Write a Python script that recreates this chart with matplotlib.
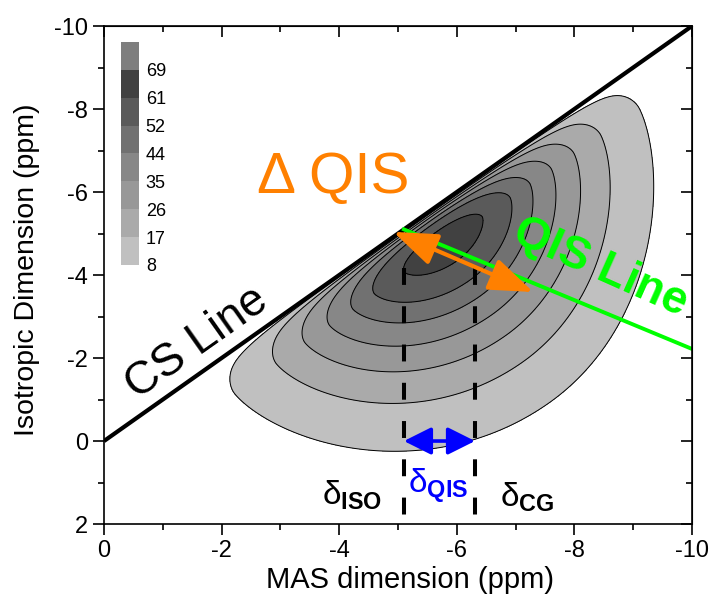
import numpy as np
import matplotlib
matplotlib.use("Agg")
import matplotlib.pyplot as plt
from matplotlib.ticker import MultipleLocator

plt.rcParams['font.family'] = ['Liberation Sans', 'DejaVu Sans']
plt.rcParams['mathtext.fontset'] = 'custom'
plt.rcParams['mathtext.rm'] = 'Liberation Sans'
plt.rcParams['mathtext.bf'] = 'Liberation Sans:bold'
plt.rcParams['mathtext.it'] = 'Liberation Sans:italic'
plt.rcParams['axes.unicode_minus'] = False

# contour levels and their gray fills (lowest first, last one is above 69)
levels = [8, 17, 26, 35, 44, 52, 61, 69]
fill_colors = ["#c0c0c0", "#aaaaaa", "#989898", "#878787",
               "#717171", "#5a5a5a", "#414141", "#7e7e7e"]

# distribution (ppm)
peak_height = 66
delta0 = -5.15          # isotropic shift of the peak
q_mode = 0.65           # QIS offset of the peak
sigma_delta_right = 1.6   # towards more negative shift
sigma_delta_left = 1.75   # towards less negative shift
sigma_q_low = 0.7       # towards the CS line
q_tail_scale = 2.15     # QIS tail, exp(-(dq/scale)^1.5)
tilt = 0.5              # drift of shift with QIS offset
edge_width = 0.08       # steepness at the CS line
qis_slope = 0.588       # QIS direction: (-1, +0.588)

# annotation values (ppm)
cs_x = [0, -10]
cs_y = [0, -10]
qis_start = -5.1
qis_end = -10
orange_from = (-4.92, -5.04)
orange_to = (-7.30, -3.59)
delta_iso = -5.1
delta_cg = -6.31
dash_top = -4.17
dash_bottom = 1.86
qis_arrow_y = 0.0

fig = plt.figure(figsize=(7.11, 5.98), dpi=100)
ax = fig.add_axes([0.1463, 0.1237, 0.827, 0.8328])

# field on a grid
xs = np.linspace(0, -10, 601)
ys = np.linspace(2, -10, 721)
X, Y = np.meshgrid(xs, ys)
q = (Y - X) / (1 + qis_slope)
d = X + q
dc = delta0 + tilt * (q - q_mode)
sd = np.where(d > dc, sigma_delta_left, sigma_delta_right)
fd = np.exp(-(d - dc) ** 2 / (2 * sd ** 2))
dq = q - q_mode
gq = np.where(dq < 0,
              np.exp(-dq ** 2 / (2 * sigma_q_low ** 2)),
              np.exp(-(np.abs(dq) / q_tail_scale) ** 1.5))
edge = np.where(q > 0, 1 - np.exp(-np.clip(q, 0, None) / edge_width), 0)
Z = peak_height * fd * gq * edge

ax.contourf(X, Y, Z, levels=levels + [200], colors=fill_colors)
ax.contour(X, Y, Z, levels=levels, colors="black", linewidths=0.7)

# CS line
ax.plot(cs_x, cs_y, color="black", lw=3, solid_capstyle="butt")

# QIS line
ax.plot([qis_start, qis_end],
        [qis_start, qis_start + qis_slope * (qis_start - qis_end)],
        color="#00ff00", lw=2.8)

# orange double arrow
ax.annotate("", xy=orange_to, xytext=orange_from,
            arrowprops=dict(arrowstyle="<|-|>,head_length=1.35,head_width=0.5",
                            mutation_scale=20, color="#ff8000", lw=3,
                            shrinkA=0, shrinkB=0))

# dashed markers
for xv in [delta_iso, delta_cg]:
    ax.plot([xv, xv], [dash_top, dash_bottom], color="black", lw=2.9,
            dashes=(4.2, 5.3))

# blue double arrow
ax.annotate("", xy=(delta_cg, qis_arrow_y), xytext=(delta_iso, qis_arrow_y),
            arrowprops=dict(arrowstyle="<|-|>,head_length=1.4,head_width=0.7",
                            mutation_scale=12, color="#0000ff", lw=2.6,
                            shrinkA=0, shrinkB=0))

# texts
ax.text(-2.6, -5.98, "Δ QIS", color="#ff8000", fontsize=42,
        ha="left", va="baseline")
ax.text(-8.44, -4.17, "QIS Line", color="#00ff00", fontsize=33,
        fontweight="bold", rotation=-24, ha="center", va="center",
        rotation_mode="anchor")
ax.text(-1.58, -2.36, "CS Line", color="black", fontsize=33,
        rotation=35.2, ha="center", va="center", rotation_mode="anchor")
ax.text(-3.71, 1.54, r"$\mathrm{\delta}_{\mathbf{ISO}}$", fontsize=24,
        ha="left", va="baseline")
ax.text(-5.17, 1.25, r"$\mathrm{\delta}_{\mathbf{QIS}}$", fontsize=24,
        color="#0000ff", ha="left", va="baseline")
ax.text(-6.73, 1.59, r"$\mathrm{\delta}_{\mathbf{CG}}$", fontsize=24,
        ha="left", va="baseline")

# axes
ax.set_xlim(0, -10)
ax.set_ylim(2, -10)
ax.set_xticks(np.arange(0, -11, -2))
ax.set_yticks(np.arange(2, -11, -2))
ax.xaxis.set_minor_locator(MultipleLocator(1))
ax.yaxis.set_minor_locator(MultipleLocator(1))
ax.tick_params(which="major", direction="out", length=8, width=1.2,
               labelsize=17)
ax.tick_params(which="minor", direction="out", length=4, width=1.2)
for sp in ax.spines.values():
    sp.set_linewidth(1.2)
ax.set_xlabel("MAS dimension (ppm)", fontsize=21)
ax.set_ylabel("Isotropic Dimension (ppm)", fontsize=20.5)
ax.xaxis.set_label_coords(0.52, -0.085)
ax.yaxis.set_label_coords(-0.109, 0.51)

secx = ax.secondary_xaxis("top")
secx.set_xticks(np.arange(0, -11, -2))
secx.xaxis.set_minor_locator(MultipleLocator(1))
secx.tick_params(which="major", direction="in", length=8, width=1.2,
                 labeltop=False)
secx.tick_params(which="minor", direction="in", length=4, width=1.2)
secy = ax.secondary_yaxis("right")
secy.set_yticks(np.arange(2, -11, -2))
secy.yaxis.set_minor_locator(MultipleLocator(1))
secy.tick_params(which="major", direction="in", length=8, width=1.2,
                 labelright=False)
secy.tick_params(which="minor", direction="in", length=4, width=1.2)

# level legend
cax = fig.add_axes([0.170, 0.557, 0.0253, 0.373])
for i, c in enumerate(fill_colors):
    cax.bar(0, 1, bottom=i, width=1, color=c)
cax.set_xlim(-0.5, 0.5)
cax.set_ylim(0, len(fill_colors))
cax.set_xticks([])
cax.set_yticks(range(len(levels)))
cax.set_yticklabels([str(v) for v in levels])
cax.yaxis.tick_right()
cax.tick_params(length=0, labelsize=13, pad=5)
for sp in cax.spines.values():
    sp.set_visible(False)

fig.savefig("out.png", dpi=100)
